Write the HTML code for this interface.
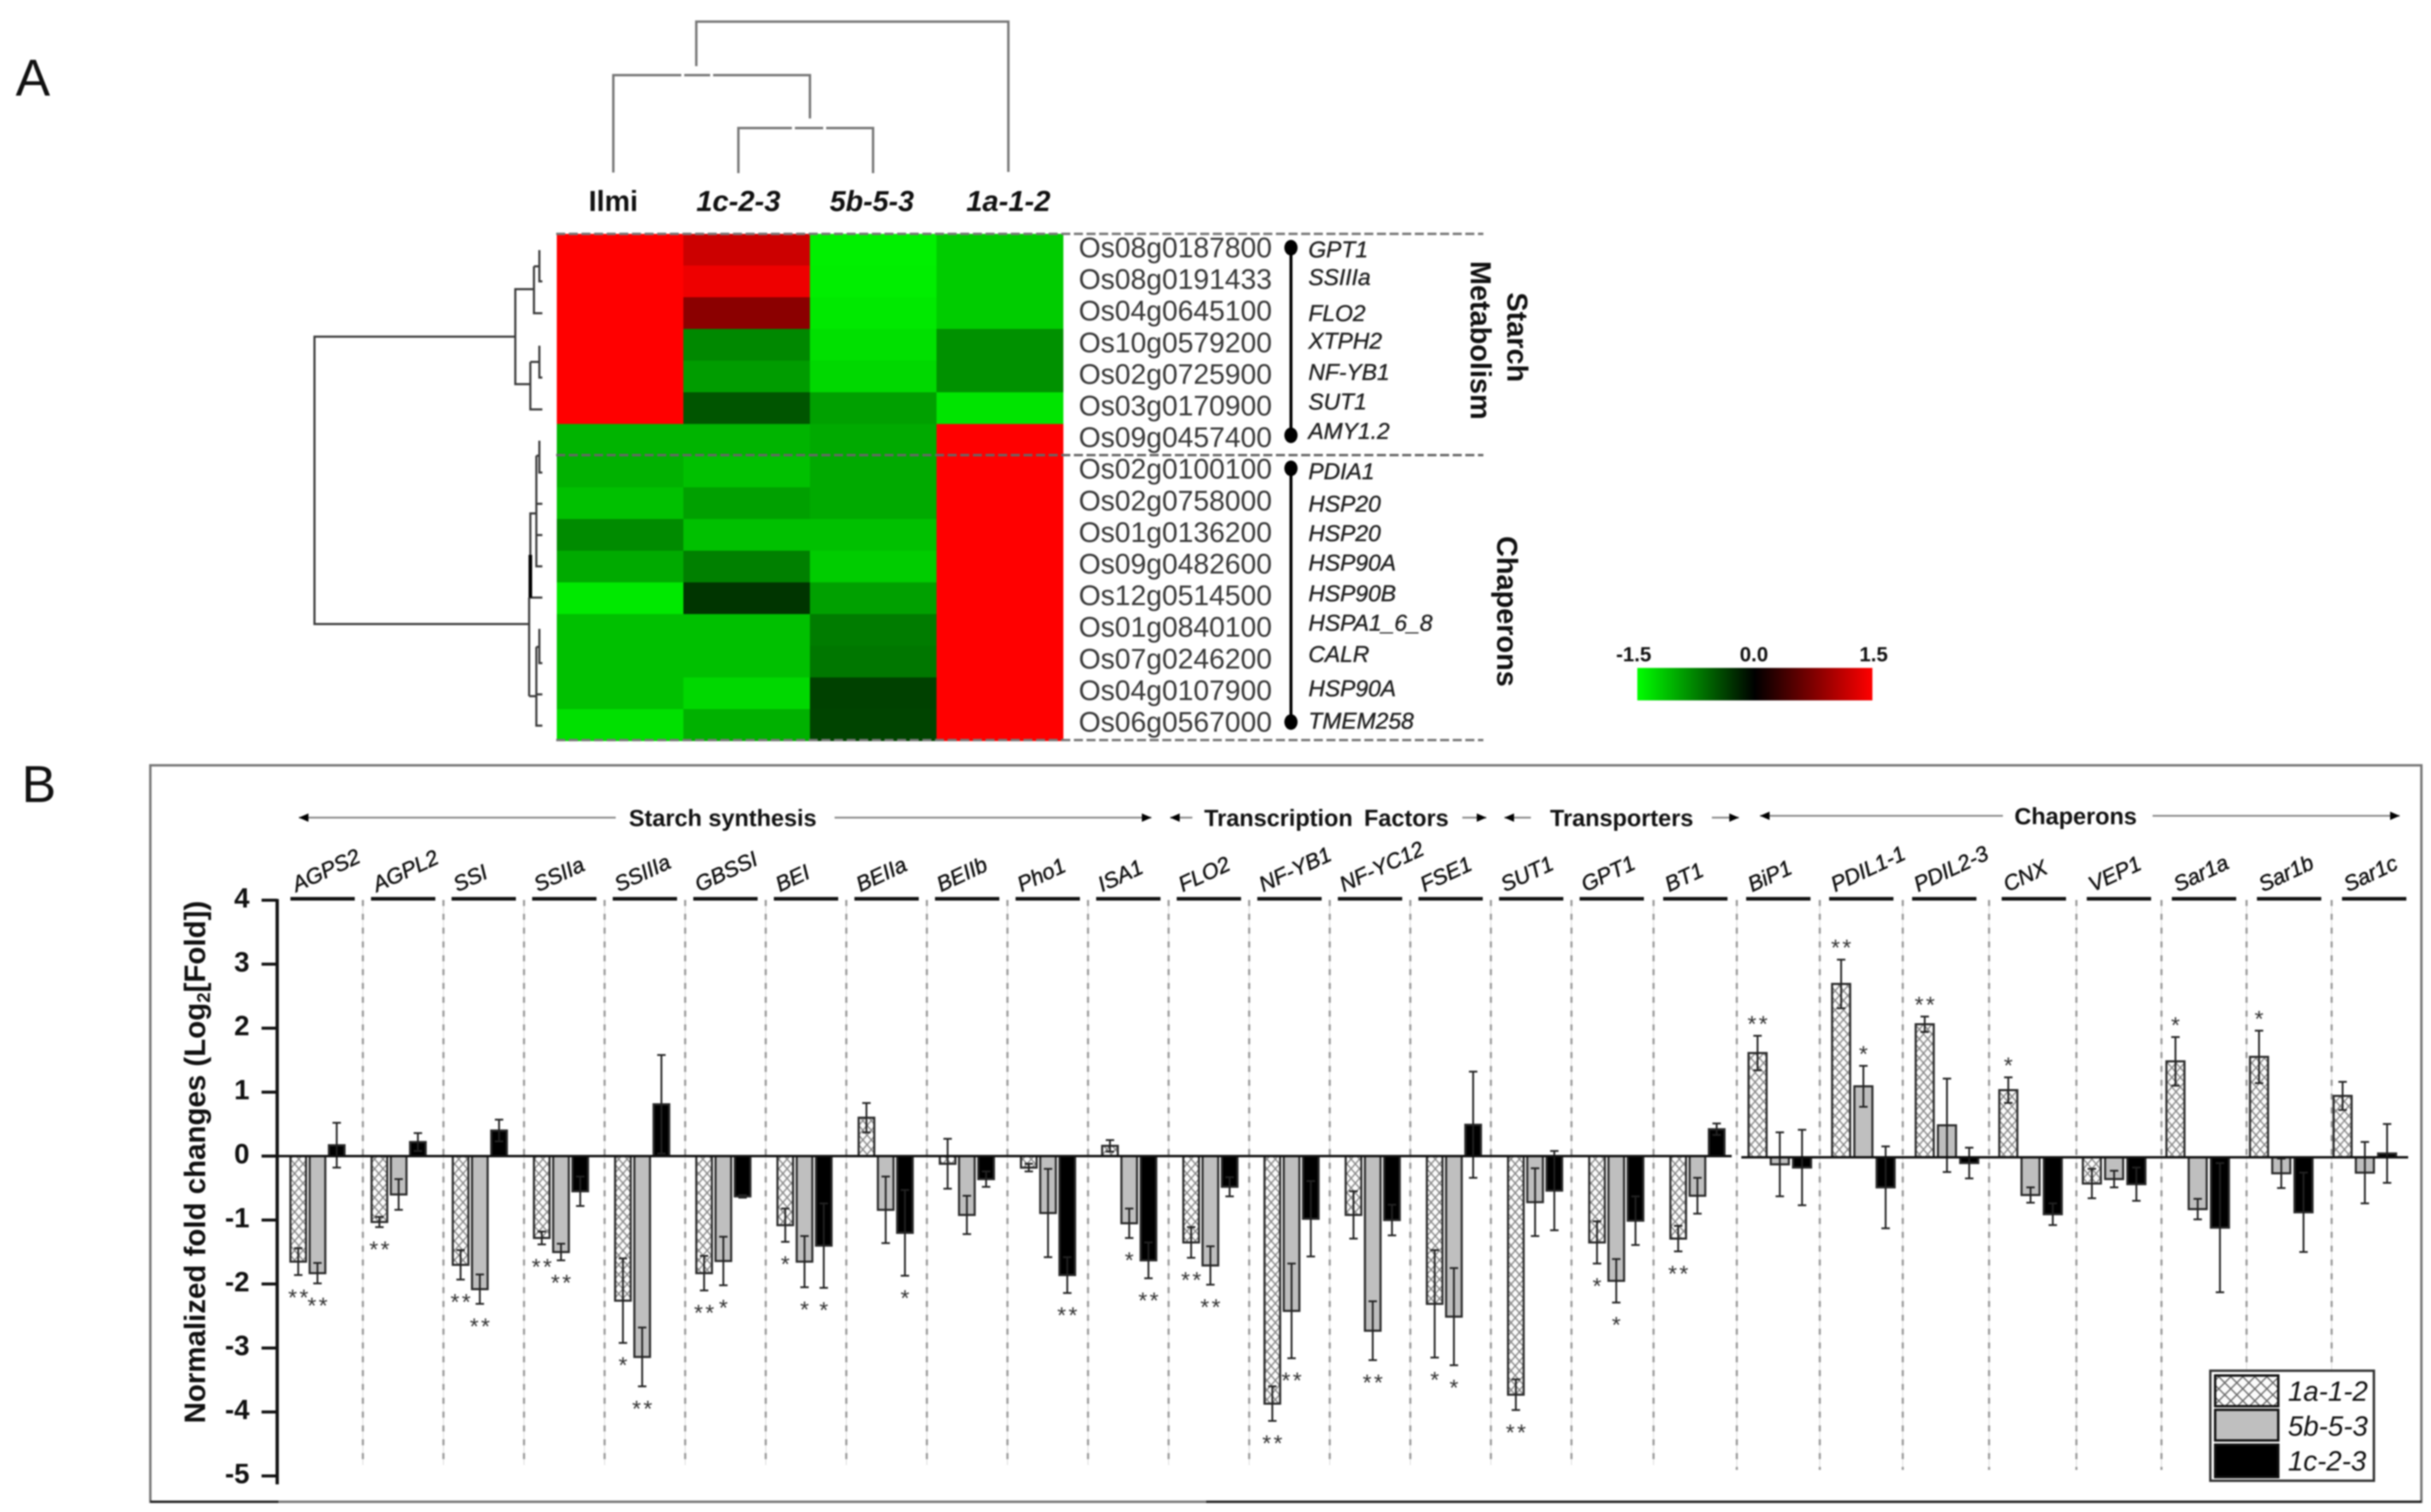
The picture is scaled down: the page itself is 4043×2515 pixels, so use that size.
<!DOCTYPE html>
<html>
<head>
<meta charset="utf-8">
<title>Heatmap and fold change chart</title>
<style>
html,body{margin:0;padding:0;background:#fff;}
svg{display:block;filter:blur(1.2px);}
text{font-family:"Liberation Sans",sans-serif;}
</style>
</head>
<body>
<svg id="fig" xmlns="http://www.w3.org/2000/svg" width="4043" height="2515" viewBox="0 0 4043 2515">
<defs>
<pattern id="hatch" patternUnits="userSpaceOnUse" width="14" height="16">
<rect width="14" height="16" fill="#fbfbfb"/>
<path d="M0 0L14 16M14 0L0 16" stroke="#888" stroke-width="2.2" fill="none"/>
</pattern>
<pattern id="hatchLegend" patternUnits="userSpaceOnUse" width="20" height="20">
<rect width="20" height="20" fill="#fbfbfb"/>
<path d="M0 0L20 20M20 0L0 20" stroke="#666" stroke-width="2.2" fill="none"/>
</pattern>
<linearGradient id="scaleGrad" x1="0" x2="1" y1="0" y2="0">
<stop offset="0" stop-color="#00ff00"/>
<stop offset="0.5" stop-color="#000000"/>
<stop offset="1" stop-color="#ff0000"/>
</linearGradient>
</defs>
<rect width="4043" height="2515" fill="#fff"/>

<text x="26" y="159" font-size="86" fill="#111">A</text>
<text x="36" y="1334" font-size="86" fill="#111">B</text>

<!-- top dendrogram -->
<g fill="none" stroke="#777" stroke-width="4">
<path d="M1158 110V36H1677V286"/>
<path d="M1020 287V125H1347V197"/>
<path d="M1228 288V213H1452V288"/>
<path d="M1133 125H1138M1181 125H1186M1317 213H1322M1369 213H1374" stroke="#fff" stroke-width="7"/>
</g>
<g font-size="48" font-weight="bold" fill="#111" text-anchor="middle">
<text x="1020" y="351" textLength="82" lengthAdjust="spacingAndGlyphs">Ilmi</text>
<text x="1228" y="351" font-style="italic" textLength="140" lengthAdjust="spacingAndGlyphs">1c-2-3</text>
<text x="1450" y="351" font-style="italic" textLength="140" lengthAdjust="spacingAndGlyphs">5b-5-3</text>
<text x="1677" y="351" font-style="italic" textLength="140" lengthAdjust="spacingAndGlyphs">1a-1-2</text>
</g>

<!-- left dendrogram -->
<g fill="none" stroke="#3a3a3a" stroke-width="3.5">
<path d="M856 560H523V1038H879"/>
<path d="M888 481H857V639H882"/>
<path d="M888 443V521H902M888 443H897M897 416V468H902"/>
<path d="M882 602V681H902M882 602H897M897 575V628H902"/>
<path d="M880 1158V994M882 994V854H892M892 758V942H902M892 838H902M892 890H902M892 758H897M897 733V786H902"/>
<path d="M880 994H902M880 1158H892M892 1076V1207H902M892 1155H902M892 1076H897M897 1046V1103H902"/>
<path d="M882 923V994" stroke="#000" stroke-width="6"/>
</g>

<g id="heatmap"></g>

<g fill="none" stroke-width="4" stroke-dasharray="15 6">
<path d="M925 389H2467" stroke="#777"/>
<path d="M925 757H2467" stroke="#666"/>
<path d="M925 1231H2467" stroke="#777"/>
</g>

<g id="geneIds"></g>

<g font-size="38" font-style="italic" fill="#222" stroke="#222" stroke-width="0.6">
<text x="2176" y="428">GPT1</text>
<text x="2176" y="474">SSIIIa</text>
<text x="2176" y="534">FLO2</text>
<text x="2176" y="580">XTPH2</text>
<text x="2176" y="632">NF-YB1</text>
<text x="2176" y="681">SUT1</text>
<text x="2176" y="730">AMY1.2</text>
<text x="2176" y="797">PDIA1</text>
<text x="2176" y="851">HSP20</text>
<text x="2176" y="900">HSP20</text>
<text x="2176" y="949">HSP90A</text>
<text x="2176" y="1000">HSP90B</text>
<text x="2176" y="1049">HSPA1_6_8</text>
<text x="2176" y="1101">CALR</text>
<text x="2176" y="1158">HSP90A</text>
<text x="2176" y="1212">TMEM258</text>
</g>

<g>
<path d="M2147 412V724" stroke="#000" stroke-width="5" fill="none"/>
<ellipse cx="2147" cy="412" rx="11" ry="13" fill="#000"/>
<ellipse cx="2147" cy="724" rx="11" ry="13" fill="#000"/>
<path d="M2147 779V1201" stroke="#000" stroke-width="5" fill="none"/>
<ellipse cx="2147" cy="779" rx="11" ry="13" fill="#000"/>
<ellipse cx="2147" cy="1201" rx="11" ry="13" fill="#000"/>
</g>

<g font-size="48" font-weight="bold" fill="#111" text-anchor="middle">
<text transform="translate(2507 561) rotate(90)">Starch</text>
<text transform="translate(2446 566) rotate(90)">Metabolism</text>
<text transform="translate(2490 1017) rotate(90)">Chaperons</text>
</g>

<g>
<rect x="2723" y="1111" width="391" height="54" fill="url(#scaleGrad)"/>
<g font-size="34" font-weight="bold" fill="#111" text-anchor="middle">
<text x="2717" y="1100">-1.5</text>
<text x="2917" y="1100">0.0</text>
<text x="3116" y="1100">1.5</text>
</g>
</g>

<!-- panel B frame -->
<rect x="250" y="1273" width="3777" height="1225" fill="none" stroke="#777" stroke-width="4"/>
<path d="M250 2498H463M2006 2498H4027" stroke="#222" stroke-width="4" fill="none"/>

<g id="sections">
<g fill="none" stroke="#888" stroke-width="3">
<path d="M497 1360H1024M1388 1360H1915"/>
<path d="M1946 1360H1983M2432 1360H2472"/>
<path d="M2502 1360H2546M2847 1360H2892"/>
<path d="M2927 1357H3331M3580 1357H3991"/>
</g>
<g fill="#000">
<path d="M497 1360l16-7v14z"/>
<path d="M1915 1360l-16-7v14z"/>
<path d="M1946 1360l16-7v14z"/>
<path d="M2472 1360l-16-7v14z"/>
<path d="M2502 1360l16-7v14z"/>
<path d="M2892 1360l-16-7v14z"/>
<path d="M2927 1357l16-7v14z"/>
<path d="M3991 1357l-16-7v14z"/>
</g>
<g font-size="39" font-weight="bold" fill="#111" text-anchor="middle">
<text x="1202" y="1374">Starch synthesis</text>
<text x="2206" y="1374" word-spacing="8">Transcription Factors</text>
<text x="2697" y="1374">Transporters</text>
<text x="3452" y="1371">Chaperons</text>
</g>
</g>

<g id="chart"></g>

<text transform="translate(341 1933) rotate(-90)" font-size="49" font-weight="bold" fill="#111" text-anchor="middle">Normalized fold changes (Log<tspan font-size="31" dy="8">2</tspan><tspan dy="-8">[Fold])</tspan></text>

<g>
<rect x="3676" y="2280" width="272" height="183" fill="#fff" stroke="#333" stroke-width="4"/>
<rect x="3684" y="2288" width="105" height="51" fill="url(#hatchLegend)" stroke="#111" stroke-width="4"/>
<rect x="3684" y="2345" width="105" height="51" fill="#bfbfbf" stroke="#111" stroke-width="4"/>
<rect x="3684" y="2403" width="105" height="54" fill="#000" stroke="#111" stroke-width="4"/>
<g font-size="46" font-style="italic" fill="#111">
<text x="3805" y="2330">1a-1-2</text>
<text x="3805" y="2388">5b-5-3</text>
<text x="3805" y="2446">1c-2-3</text>
</g>
</g>

<script>
// Heatmap data
const geneIds = ["Os08g0187800","Os08g0191433","Os04g0645100","Os10g0579200","Os02g0725900","Os03g0170900","Os09g0457400","Os02g0100100","Os02g0758000","Os01g0136200","Os09g0482600","Os12g0514500","Os01g0840100","Os07g0246200","Os04g0107900","Os06g0567000"];
const heatIlmi = [1.5,1.5,1.5,1.5,1.5,1.5,-1.06,-1.04,-1.13,-0.82,-1.0,-1.37,-1.13,-1.13,-1.13,-1.32];
const heat1c = [1.2,1.4,0.82,-0.8,-0.92,-0.5,-1.06,-1.13,-0.94,-1.13,-0.75,-0.31,-1.13,-1.13,-1.27,-1.04];
const heat5b = [-1.41,-1.4,-1.37,-1.32,-1.27,-0.94,-1.0,-1.0,-1.0,-1.13,-1.2,-0.94,-0.73,-0.7,-0.38,-0.4];
const heat1a = [-1.2,-1.2,-1.2,-0.85,-0.85,-1.34,1.5,1.5,1.5,1.5,1.5,1.5,1.5,1.5,1.5,1.5];

// Bar chart data
const categories = ["AGPS2","AGPL2","SSI","SSIIa","SSIIIa","GBSSI","BEI","BEIIa","BEIIb","Pho1","ISA1","FLO2","NF-YB1","NF-YC12","FSE1","SUT1","GPT1","BT1","BiP1","PDIL1-1","PDIL2-3","CNX","VEP1","Sar1a","Sar1b","Sar1c"];
const values1a = [-1.65,-1.03,-1.70,-1.28,-2.26,-1.83,-1.08,0.60,-0.12,-0.18,0.16,-1.35,-3.87,-0.92,-2.31,-3.73,-1.35,-1.29,1.63,2.71,2.08,1.05,-0.41,1.50,1.57,0.96];
const errors1a = [0.21,0.08,0.23,0.10,0.66,0.27,0.26,0.23,0.39,0.06,0.09,0.24,0.27,0.37,0.84,0.24,0.33,0.20,0.27,0.38,0.12,0.20,0.23,0.38,0.41,0.22];
const values5b = [-1.83,-0.60,-2.08,-1.50,-3.14,-1.64,-1.65,-0.84,-0.92,-0.89,-1.05,-1.71,-2.42,-2.73,-2.51,-0.72,-1.95,-0.62,-0.11,1.11,0.50,-0.59,-0.34,-0.81,-0.25,-0.24];
const errors5b = [0.16,0.24,0.23,0.13,0.46,0.38,0.40,0.52,0.30,0.69,0.23,0.30,0.74,0.46,0.76,0.53,0.34,0.28,0.50,0.32,0.73,0.12,0.13,0.16,0.23,0.48];
const values1c = [0.17,0.22,0.40,-0.55,0.81,-0.63,-1.40,-1.20,-0.36,-1.86,-1.63,-0.48,-0.98,-1.00,0.49,-0.54,-1.01,0.42,-0.16,-0.47,-0.09,-0.89,-0.42,-1.10,-0.86,0.06];
const errors1c = [0.35,0.14,0.17,0.23,0.77,0.02,0.66,0.67,0.12,0.28,0.28,0.15,0.59,0.24,0.83,0.62,0.38,0.09,0.59,0.64,0.24,0.17,0.26,1.01,0.62,0.46];
const signif1a = ["**","**","**","**","*","**","*","","","","","**","**","","*","**","*","**","**","**","**","*","","*","*",""];
const signif5b = ["**","","**","**","**","*","*","","","","*","**","**","**","*","","*","","","*","","","","","",""];
const signif1c = ["","","","","","","*","*","","**","**","","","","","","","","","","","","","","",""];
const yTicks = [4,3,2,1,0,-1,-2,-3,-4,-5];

const SVGNS = "http://www.w3.org/2000/svg";
function make(tag, parent){
  const el = document.createElementNS(SVGNS, tag);
  parent.appendChild(el);
  return el;
}

// Heatmap scales
function heatX(col){ return 926 + 210.5 * col; }
function heatY(row){ return 389 + 52.7 * row; }
function heatColor(v){
  const level = Math.round(255 * Math.min(Math.abs(v), 1.5) / 1.5);
  return v < 0 ? "rgb(0," + level + ",0)" : "rgb(" + level + ",0,0)";
}
const heatmap = document.getElementById("heatmap");
const heatColumns = [heatIlmi, heat1c, heat5b, heat1a];
const heatNames = ["ilmi", "1c-2-3", "5b-5-3", "1a-1-2"];
heatColumns.forEach(function(col, c){
  col.forEach(function(v, r){
    const cell = make("rect", heatmap);
    
    
    cell.setAttribute("x", heatX(c));
    cell.setAttribute("y", heatY(r));
    cell.setAttribute("width", 211);
    cell.setAttribute("height", 53.2);
    cell.setAttribute("fill", heatColor(v));
  });
});

const idGroup = document.getElementById("geneIds");
geneIds.forEach(function(id, r){
  const t = make("text", idGroup);
  
  
  t.setAttribute("x", 1794);
  t.setAttribute("y", 412 + 52.6 * r + 16);
  t.setAttribute("font-size", 47);
  t.setAttribute("fill", "#383838");
  t.textContent = id;
});

// Bar chart axis functions
const chart = document.getElementById("chart");
function yScale(v, idx){ return 1923 + (idx >= 18 ? 2 : 0) - 106.4 * v; }
function groupX(i){ return i <= 17 ? 483 + 135 * i : 2908 + 139 * (i - 18); }
function barStep(i){ return i <= 17 ? 32 : 37; }
function barWidth(i){ return i <= 17 ? 26 : 30; }
function headerX(i){
  if (i <= 16) return 483 + 134 * i;
  if (i <= 20) return 2766 + 138 * (i - 17);
  return 3329 + 141.5 * (i - 21);
}

// Group separators
categories.forEach(function(name, i){
  if (i === categories.length - 1) return;
  const sx = (headerX(i) + 107 + headerX(i + 1)) / 2;
  const bottom = i >= 17 ? 2445 : 2437;
  const thin = make("line", chart);
  
  
  thin.setAttribute("x1", sx);
  thin.setAttribute("x2", sx);
  thin.setAttribute("y1", 1497);
  thin.setAttribute("y2", bottom);
  thin.setAttribute("stroke", "#ddd");
  thin.setAttribute("stroke-width", 1.5);
  const sep = make("line", chart);
  
  
  sep.setAttribute("x1", sx);
  sep.setAttribute("x2", sx);
  sep.setAttribute("y1", 1497);
  sep.setAttribute("y2", bottom);
  sep.setAttribute("stroke", "#999");
  sep.setAttribute("stroke-width", 3.5);
  sep.setAttribute("stroke-dasharray", "10 13");
});

// Category header bars and labels
categories.forEach(function(name, i){
  const bar = make("line", chart);
  
  
  bar.setAttribute("x1", headerX(i));
  bar.setAttribute("x2", headerX(i) + 107);
  bar.setAttribute("y1", 1495);
  bar.setAttribute("y2", 1495);
  bar.setAttribute("stroke", "#111");
  bar.setAttribute("stroke-width", 6);
  const t = make("text", chart);
  
  
  t.setAttribute("transform", "translate(" + (headerX(i) + 10) + " 1484) rotate(-25)");
  t.setAttribute("font-size", 36);
  t.setAttribute("font-style", "italic");
  t.setAttribute("fill", "#111");
  t.setAttribute("stroke", "#111");
  t.setAttribute("stroke-width", 0.7);
  t.textContent = name;
});

// Bars, error bars and significance stars
const seriesValues = [values1a, values5b, values1c];
const seriesErrors = [errors1a, errors5b, errors1c];
const seriesSignif = [signif1a, signif5b, signif1c];
const seriesNames = ["1a-1-2", "5b-5-3", "1c-2-3"];
const seriesFill = ["url(#hatch)", "#bfbfbf", "#000"];
seriesValues.forEach(function(vals, s){
  vals.forEach(function(v, i){
    const x = groupX(i) + s * barStep(i);
    const w = barWidth(i);
    const y0 = yScale(0, i);
    const yv = yScale(v, i);
    const rect = make("rect", chart);
    
    
    rect.setAttribute("x", x);
    rect.setAttribute("y", Math.min(y0, yv));
    rect.setAttribute("width", w);
    rect.setAttribute("height", Math.abs(y0 - yv));
    rect.setAttribute("fill", seriesFill[s]);
    rect.setAttribute("stroke", "#2a2a2a");
    rect.setAttribute("stroke-width", 3.5);

    const e = seriesErrors[s][i];
    const cx = x + w / 2;
    const tipA = yScale(v + e, i);
    const tipB = yScale(v - e, i);
    const err = make("path", chart);
    
    
    err.setAttribute("d", "M" + (cx - 7) + " " + tipA + "H" + (cx + 7) + "M" + cx + " " + tipA + "V" + tipB + "M" + (cx - 7) + " " + tipB + "H" + (cx + 7));
    err.setAttribute("fill", "none");
    err.setAttribute("stroke", "#222");
    err.setAttribute("stroke-width", 3);

    const sig = seriesSignif[s][i];
    if (sig) {
      const star = make("text", chart);
      
      
      const starCenter = v < 0 ? tipB + 28 : tipA - 29;
      star.setAttribute("x", cx + 2);
      star.setAttribute("y", starCenter + 22);
      star.setAttribute("font-size", 38);
      star.setAttribute("letter-spacing", 4);
      star.setAttribute("text-anchor", "middle");
      star.setAttribute("fill", "#333");
      star.textContent = sig;
    }
  });
});

// Zero baselines
const zeroLeft = make("line", chart);


zeroLeft.setAttribute("x1", 435);
zeroLeft.setAttribute("x2", 2880);
zeroLeft.setAttribute("y1", yScale(0, 0));
zeroLeft.setAttribute("y2", yScale(0, 0));
zeroLeft.setAttribute("stroke", "#111");
zeroLeft.setAttribute("stroke-width", 4);
const zeroRight = make("line", chart);


zeroRight.setAttribute("x1", 2896);
zeroRight.setAttribute("x2", 4005);
zeroRight.setAttribute("y1", yScale(0, 18));
zeroRight.setAttribute("y2", yScale(0, 18));
zeroRight.setAttribute("stroke", "#111");
zeroRight.setAttribute("stroke-width", 4);

// Y axis
const axis = make("line", chart);


axis.setAttribute("x1", 461);
axis.setAttribute("x2", 461);
axis.setAttribute("y1", yScale(4, 0) - 2);
axis.setAttribute("y2", yScale(-5, 0) + 14);
axis.setAttribute("stroke", "#111");
axis.setAttribute("stroke-width", 5.5);
yTicks.forEach(function(t){
  const tick = make("line", chart);
  
  
  tick.setAttribute("x1", 435);
  tick.setAttribute("x2", 461);
  tick.setAttribute("y1", yScale(t, 0));
  tick.setAttribute("y2", yScale(t, 0));
  tick.setAttribute("stroke", "#111");
  tick.setAttribute("stroke-width", 5);
  const label = make("text", chart);
  
  
  label.setAttribute("x", 415);
  label.setAttribute("y", yScale(t, 0) + 12);
  label.setAttribute("font-size", 46);
  label.setAttribute("font-weight", "bold");
  label.setAttribute("text-anchor", "end");
  label.setAttribute("fill", "#111");
  label.textContent = String(t);
});
</script>
</svg>
</body>
</html>
